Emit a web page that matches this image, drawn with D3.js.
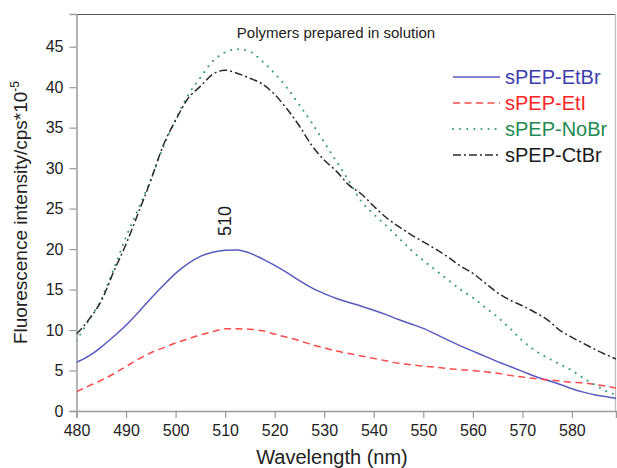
<!DOCTYPE html>
<html><head><meta charset="utf-8">
<script src="https://cdn.jsdelivr.net/npm/d3@7"></script>
<style>html,body{margin:0;padding:0;background:#fff;}svg{display:block;font-family:"Liberation Sans",Arial,sans-serif;}</style>
</head><body><svg id="c" width="617" height="468"></svg>
<script>
const wavelengths = [480,482.5,485,487.5,490,492.5,495,497.5,500,502.5,505,507.5,510,512.5,515,517.5,520,522.5,525,527.5,530,532.5,535,537.5,540,542.5,545,547.5,550,552.5,555,557.5,560,562.5,565,567.5,570,572.5,575,577.5,580,582.5,585,587.5,589];
const etbr = [6.0,6.8,7.9,9.2,10.6,12.2,13.9,15.5,17.0,18.2,19.1,19.6,19.85,19.9,19.5,18.8,18.0,17.1,16.1,15.2,14.5,13.9,13.4,12.95,12.45,11.9,11.3,10.75,10.2,9.5,8.75,8.05,7.4,6.75,6.1,5.5,4.9,4.3,3.8,3.3,2.75,2.3,1.95,1.7,1.55];
const eti = [2.4,3.1,3.8,4.6,5.5,6.4,7.2,7.8,8.4,8.9,9.4,9.8,10.15,10.15,10.1,9.9,9.5,9.1,8.7,8.2,7.8,7.4,7.1,6.8,6.5,6.2,5.9,5.7,5.55,5.4,5.25,5.1,5.0,4.85,4.65,4.4,4.2,4.0,3.85,3.7,3.55,3.45,3.25,3.0,2.8];
const nobr = [8.7,11.2,13.8,17.5,21.5,25.0,28.6,32.6,36.0,39.0,41.2,43.2,44.3,44.7,44.4,43.2,41.7,39.9,37.8,35.6,33.2,30.8,28.4,25.9,24.3,22.9,21.4,19.9,18.6,17.4,16.2,15.0,14.0,12.8,11.6,10.2,8.7,7.5,6.6,5.8,5.0,4.0,3.1,2.3,2.0];
const ctbr = [9.5,11.3,13.6,17.2,20.6,24.5,28.5,32.8,35.9,38.6,40.1,41.6,42.1,41.7,41.1,40.4,39.1,37.3,35.2,32.8,31.0,29.6,27.9,26.8,25.3,23.9,22.8,21.8,20.9,20.0,19.0,17.9,17.0,15.8,14.6,13.7,13.0,12.2,11.3,10.0,9.1,8.3,7.5,6.8,6.4];
const seriesNames = ["sPEP-EtBr","sPEP-EtI","sPEP-NoBr","sPEP-CtBr"];
const xTicks = [480,490,500,510,520,530,540,550,560,570,580];
const yTicks = [0,5,10,15,20,25,30,35,40,45];
const title = "Polymers prepared in solution";
const peakLabel = "510";

const svg = d3.select("#c");
const L = 76.5, R = 616, T = 14, B = 411;
const x = d3.scaleLinear().domain([480, 588.9]).range([L, R]);
const y = d3.scaleLinear().domain([0, 49.04]).range([B, T]);

const styles = [
  {stroke:"#5a5abf", dash:null, text:"#3c3cab", w:1.5, cap:"butt"},
  {stroke:"#ff4a4a", dash:"7,4.5", text:"#ff2424", w:1.5, cap:"butt"},
  {stroke:"#3a9a82", dash:"0.1,7", text:"#1f8a52", w:2, cap:"round"},
  {stroke:"#2b2b2b", dash:"8,3,2,3", text:"#1a1a1a", w:1.5, cap:"butt"}
];
const allSeries = [etbr, eti, nobr, ctbr];

// frame top/right
svg.append("line").attr("x1",L).attr("x2",R).attr("y1",T+0.5).attr("y2",T+0.5).attr("stroke","#555").attr("stroke-width",1.2);
svg.append("line").attr("x1",R-0.5).attr("x2",R-0.5).attr("y1",T).attr("y2",B).attr("stroke","#bbb").attr("stroke-width",1.2);

// axes
const minorY = d3.range(2.5, 49, 5);
const minorX = d3.range(485, 589, 10);
const gy = svg.append("g").attr("transform",`translate(${L},0)`);
gy.call(d3.axisLeft(y).tickValues(minorY).tickSize(4).tickFormat(""));
gy.call(d3.axisLeft(y).tickValues(yTicks).tickSize(7).tickPadding(6));
const gx = svg.append("g").attr("transform",`translate(0,${B})`);
gx.call(d3.axisBottom(x).tickValues(minorX).tickSize(4).tickFormat(""));
gx.call(d3.axisBottom(x).tickValues(xTicks).tickSize(7).tickPadding(7));
svg.selectAll(".domain").attr("stroke","#9a9a9a").attr("stroke-width",1.5);
svg.selectAll(".tick line").attr("stroke","#9a9a9a").attr("stroke-width",1.2);
svg.selectAll(".tick text").attr("font-size",16).attr("fill","#222").attr("font-family","Liberation Sans, Arial, sans-serif");

// curves
const line = d3.line().x((d,i)=>x(wavelengths[i])).y(d=>y(d)).curve(d3.curveMonotoneX);
svg.append("clipPath").attr("id","pc").append("rect").attr("x",L).attr("y",T).attr("width",R-L).attr("height",B-T);
allSeries.forEach((s,k)=>{
  svg.append("path").attr("d",line(s)).attr("fill","none").attr("stroke",styles[k].stroke)
    .attr("stroke-width",styles[k].w).attr("stroke-dasharray",styles[k].dash).attr("stroke-linecap",styles[k].cap)
    .attr("clip-path","url(#pc)");
});

// title
svg.append("text").attr("x",336).attr("y",38).attr("text-anchor","middle").attr("font-size",15).attr("fill","#222").text(title);

// peak label
svg.append("text").attr("transform",`translate(${x(510)+6},${221}) rotate(-90)`).attr("text-anchor","middle").attr("font-size",18).attr("fill","#222").text(peakLabel);

// legend
const legY = [77,103,129,155];
seriesNames.forEach((n,k)=>{
  svg.append("line").attr("x1",453).attr("x2",500).attr("y1",legY[k]).attr("y2",legY[k])
    .attr("stroke",styles[k].stroke).attr("stroke-width",styles[k].w).attr("stroke-dasharray",styles[k].dash).attr("stroke-linecap",styles[k].cap);
  svg.append("text").attr("x",505).attr("y",legY[k]+7).attr("font-size",20).attr("fill",styles[k].text).text(n);
});

// axis titles
svg.append("text").attr("x",332).attr("y",464).attr("text-anchor","middle").attr("font-size",20).attr("fill","#222").text("Wavelength (nm)");
const yl = svg.append("text").attr("transform",`translate(27,${(T+B)/2}) rotate(-90)`).attr("text-anchor","middle").attr("font-size",19).attr("fill","#222");
yl.append("tspan").text("Fluorescence intensity/cps*10");
yl.append("tspan").attr("dy",-8).attr("font-size",12).text("-5");
</script></body></html>
